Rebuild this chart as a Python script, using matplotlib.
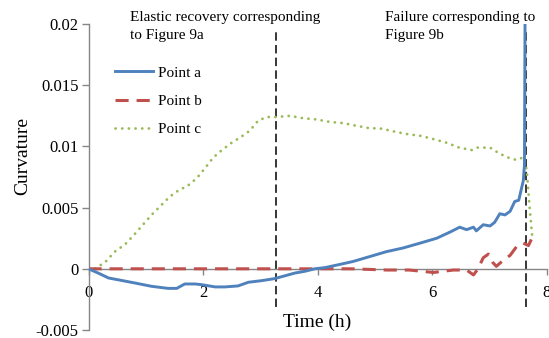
import matplotlib
matplotlib.use("Agg")
import matplotlib.pyplot as plt

plt.rcParams['font.family'] = ['Liberation Serif', 'DejaVu Serif']

# Point a (blue, solid)
time_a = [0.00, 0.17, 0.35, 0.52, 0.81, 1.10, 1.39, 1.54, 1.68, 1.86, 1.98, 2.21, 2.38,
          2.61, 2.79, 3.02, 3.25, 3.43, 3.60, 3.78, 3.95, 4.13, 4.33, 4.62, 4.91, 5.20,
          5.49, 5.79, 6.08, 6.31, 6.48, 6.60, 6.72, 6.77, 6.89, 7.01, 7.09, 7.18, 7.27,
          7.36, 7.44, 7.51, 7.59, 7.61, 7.62]
curv_a = [0.0, -0.00035, -0.00075, -0.0009, -0.00116, -0.00143, -0.0016, -0.0016, -0.00124,
          -0.00124, -0.0013, -0.00148, -0.00148, -0.0014, -0.0011, -0.00097, -0.0008,
          -0.00057, -0.00035, -0.0002, 0.0, 0.0001, 0.0003, 0.0006, 0.001, 0.0014, 0.0017,
          0.0021, 0.0025, 0.003, 0.0034, 0.0032, 0.0034, 0.0031, 0.0036, 0.0035, 0.0038,
          0.0045, 0.0044, 0.0047, 0.0055, 0.0056, 0.0072, 0.0085, 0.02]

# Point b (red, dashed)
time_b = [0.0, 0.5, 1.0, 1.5, 2.0, 2.5, 3.0, 3.5, 4.0, 4.6, 5.2, 5.6, 6.02, 6.37, 6.6,
          6.72, 6.8, 6.89, 6.98, 7.06, 7.12, 7.24, 7.36, 7.47, 7.59, 7.68, 7.73]
curv_b = [0.0, 0.0, 0.0, 0.0, 0.0, 0.0, 0.0, 0.0, 0.0, 0.0, -0.0001, -0.0001, -0.0003,
          -0.0001, -0.0001, -0.0005, 0.0, 0.0009, 0.0012, 0.0005, 0.0002, 0.0007, 0.0011,
          0.0018, 0.0021, 0.0019, 0.0024]

# Point c (green, dotted)
time_c = [0.00, 0.11, 0.29, 0.46, 0.64, 0.80, 0.95, 1.10, 1.27, 1.42, 1.60, 1.71, 1.89,
          2.03, 2.18, 2.33, 2.50, 2.67, 2.82, 2.96, 3.11, 3.28, 3.40, 3.52, 3.63, 3.75,
          3.98, 4.21, 4.45, 4.66, 4.89, 5.12, 5.35, 5.57, 5.80, 6.02, 6.25, 6.47, 6.69,
          6.79, 7.01, 7.18, 7.37, 7.47, 7.59, 7.65, 7.70, 7.75]
curv_c = [0.0, 0.0, 0.00054, 0.0014, 0.002, 0.0028, 0.0036, 0.0044, 0.0052, 0.0059,
          0.0065, 0.0067, 0.0074, 0.0082, 0.0091, 0.0097, 0.0103, 0.0108, 0.0113, 0.0121,
          0.0124, 0.0124, 0.01245, 0.0125, 0.0124, 0.0123, 0.0122, 0.012, 0.0119, 0.0117,
          0.0115, 0.01145, 0.0112, 0.011, 0.01086, 0.0106, 0.0103, 0.0099, 0.0097, 0.0099,
          0.0099, 0.0094, 0.009, 0.0089, 0.0091, 0.0081, 0.005, 0.0024]

# Event markers and their two-line captions
event_times = [3.28, 7.64]
event_lines = [("Elastic recovery corresponding", "to Figure 9a"),
               ("Failure corresponding to", "Figure 9b")]
event_text_x = [0.72, 5.18]

x_ticks = [0, 2, 4, 6, 8]
y_ticks = [-0.005, 0, 0.005, 0.01, 0.015, 0.02]
y_tick_labels = ["-0.005", "0", "0.005", "0.01", "0.015", "0.02"]

W, H = 549, 338
fig = plt.figure(figsize=(W / 100, H / 100), dpi=100)
ax = fig.add_axes([88.5 / W, 8 / H, (546.8 - 88.5) / W, 306 / H])

ax.set_xlim(0, 8)
ax.set_ylim(-0.005, 0.02)

axis_grey = '#868686'
for side in ('top', 'right'):
    ax.spines[side].set_visible(False)
ax.spines['bottom'].set_position(('data', 0))
ax.spines['bottom'].set_color(axis_grey)
ax.spines['left'].set_color(axis_grey)
ax.spines['bottom'].set_linewidth(1.0)
ax.spines['left'].set_linewidth(1.0)

ax.set_xticks(x_ticks)
ax.set_yticks(y_ticks)
ax.set_yticklabels(y_tick_labels)
ax.tick_params(axis='x', direction='out', length=4, width=1.0, color=axis_grey,
               pad=8, labelsize=12)
ax.tick_params(axis='y', direction='out', length=5, width=1.0, color=axis_grey,
               pad=2, labelsize=12)

# Event lines
ax.vlines(event_times, -0.0031, 0.0196, colors='black', linewidth=1.1,
          linestyles=(0, (5.5, 2.8)), zorder=2)

ax.plot(time_c, curv_c, color='#9BBB59', linewidth=2.0,
        linestyle=(0, (0.05, 2.35)), dash_capstyle='round', label='Point c', zorder=3)
ax.plot(time_b, curv_b, color='#C0504D', linewidth=2.2,
        linestyle=(0, (4.3, 2.6)), label='Point b', zorder=4)
ax.plot(time_a, curv_a, color='#4F81BD', linewidth=2.1, label='Point a', zorder=5)

handles, labels = ax.get_legend_handles_labels()
order = [2, 1, 0]
ax.legend([handles[i] for i in order], [labels[i] for i in order],
          loc='upper left', bbox_to_anchor=(115 / W, 1 - 66 / H),
          bbox_transform=fig.transFigure, frameon=False, fontsize=11,
          handlelength=2.5, handletextpad=0.3, labelspacing=0.95,
          borderpad=0, borderaxespad=0)

for tx, (line1, line2) in zip(event_text_x, event_lines):
    x = (88.5 + tx * 57.3) / W
    fig.text(x, 1 - 17.5 / H, line1, fontsize=11, ha='left', va='center')
    fig.text(x, 1 - 35 / H, line2, fontsize=11, ha='left', va='center')

fig.text(23 / W, 1 - 156 / H, 'Curvature', fontsize=14, rotation=90,
         ha='center', va='center')
fig.text(317.5 / W, 1 - 322 / H, 'Time (h)', fontsize=14, ha='center', va='center')

fig.savefig('out.png', dpi=100)
